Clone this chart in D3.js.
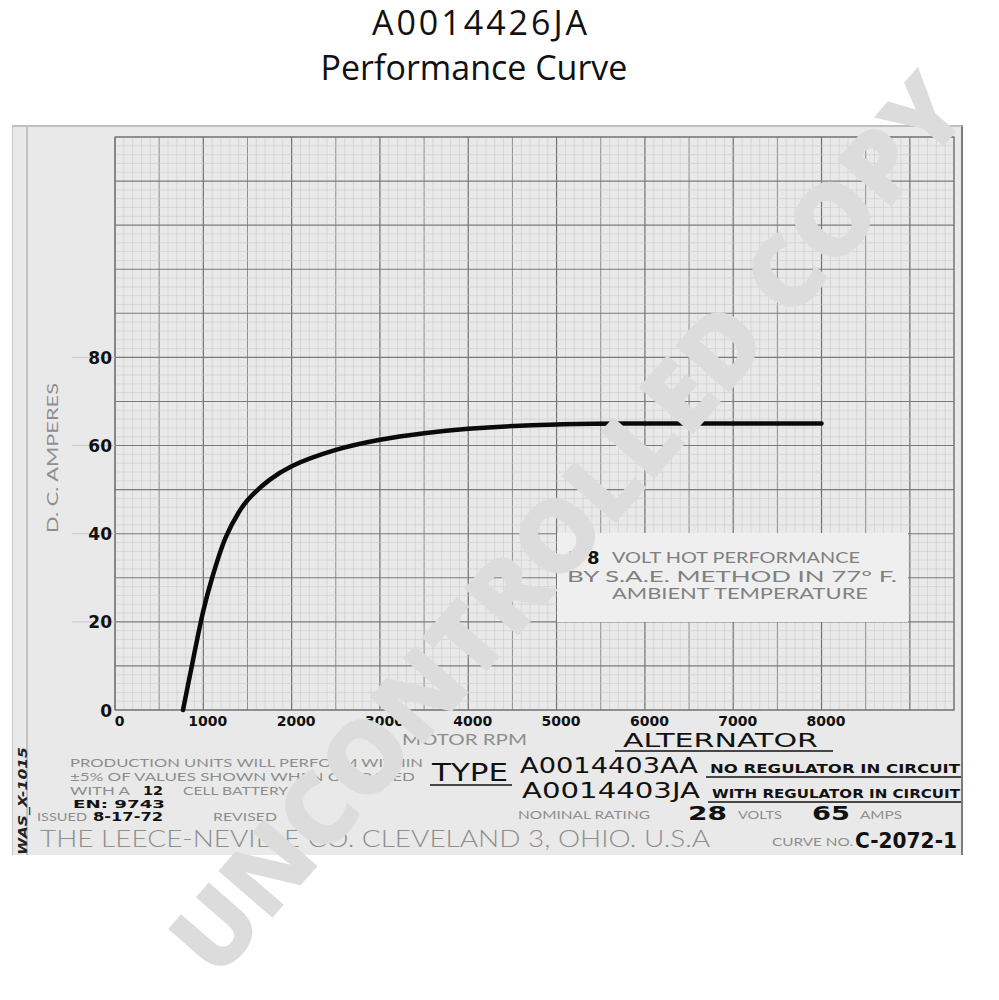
<!DOCTYPE html>
<html><head><meta charset="utf-8">
<script src="https://cdn.jsdelivr.net/npm/d3@7"></script>
<style>
html,body{margin:0;padding:0;background:#fff;}
svg{display:block;}
</style></head>
<body>
<script>
// ---- data ----
const rpm  = [770, 850, 1000, 1100, 1250, 1400, 1500, 1750, 2000, 2500, 3000, 3500, 4000, 5000, 6000, 7000, 8000];
const amps = [0, 8, 22.5, 30, 39, 44.8, 47.6, 52.2, 55.3, 59, 61.3, 62.8, 63.8, 64.8, 65, 65, 65];
const xTicks = [0, 1000, 2000, 3000, 4000, 5000, 6000, 7000, 8000];
const yTicks = [0, 20, 40, 60, 80];
const titleLines = ["A0014426JA", "Performance Curve"];

const W = 999, H = 1000;
const svg = d3.select("body").append("svg").attr("width", W).attr("height", H);

const x = d3.scaleLinear().domain([0, 9500]).range([115, 954]);
const y = d3.scaleLinear().domain([0, 130]).range([710, 137]);

// title
svg.selectAll("text.title").data(titleLines).enter().append("text")
  .attr("x", (d, i) => i === 0 ? 481 : 474).attr("y", (d, i) => 35 + i * 45)
  .attr("text-anchor", "middle")
  .style("font-family", "'Open Sans', sans-serif").style("font-size", "34px").style("fill", "#111")
  .style("letter-spacing", (d, i) => i === 0 ? "3px" : "0px")
  .text(d => d);

// paper
svg.append("rect").attr("x", 12).attr("y", 125).attr("width", 951).attr("height", 730).attr("fill", "#e9e9e9");
svg.append("line").attr("x1", 962).attr("x2", 962).attr("y1", 125).attr("y2", 855).attr("stroke", "#7a7a7a").attr("stroke-width", 2);
svg.append("line").attr("x1", 12).attr("x2", 963).attr("y1", 126).attr("y2", 126).attr("stroke", "#b0b0b0").attr("stroke-width", 1.5);
svg.append("line").attr("x1", 27).attr("x2", 27).attr("y1", 127).attr("y2", 855).attr("stroke", "#9a9a9a").attr("stroke-width", 1);
svg.append("line").attr("x1", 12.5).attr("x2", 12.5).attr("y1", 125).attr("y2", 855).attr("stroke", "#c8c8c8").attr("stroke-width", 1);

// grid
const g = svg.append("g");
const xMinor = d3.range(0, 9501, 100), yMinor = d3.range(0, 131, 2);
g.selectAll("line.vx").data(xMinor).enter().append("line")
  .attr("x1", d => x(d)).attr("x2", d => x(d)).attr("y1", y(130)).attr("y2", y(0))
  .attr("stroke", d => d % 1000 === 0 ? "#707070" : d % 500 === 0 ? "#8e8e8e" : "#cbcbcb")
  .attr("stroke-width", d => d % 1000 === 0 ? 1.2 : d % 500 === 0 ? 1 : 0.6);
g.selectAll("line.hy").data(yMinor).enter().append("line")
  .attr("y1", d => y(d)).attr("y2", d => y(d)).attr("x1", x(0)).attr("x2", x(9500))
  .attr("stroke", d => d % 10 === 0 ? "#7a7a7a" : "#cbcbcb")
  .attr("stroke-width", d => d % 10 === 0 ? 1.1 : 0.6);
g.append("rect").attr("x", x(0)).attr("y", y(130)).attr("width", x(9500) - x(0)).attr("height", y(0) - y(130))
  .attr("fill", "none").attr("stroke", "#777").attr("stroke-width", 1.2);
// faint left ticks
g.selectAll("line.lt").data(yTicks.slice(1)).enter().append("line")
  .attr("x1", 72).attr("x2", x(0)).attr("y1", d => y(d)).attr("y2", d => y(d))
  .attr("stroke", "#c8c8c8").attr("stroke-width", 1);

// annotation box
svg.append("rect").attr("x", 557).attr("y", 533).attr("width", 351).attr("height", 89).attr("fill", "#efefef");

// curve
const pts = rpm.map((r, i) => [r, amps[i]]);
svg.append("path").datum(pts)
  .attr("d", d3.line().x(d => x(d[0])).y(d => y(d[1])).curve(d3.curveCatmullRom.alpha(0.5)))
  .attr("fill", "none").attr("stroke", "#0a0a0a").attr("stroke-width", 4.5).attr("stroke-linecap", "round");

// axes labels
const inkFont = "'DejaVu Sans', sans-serif";
const xAxis = svg.append("g").call(d3.axisBottom(x).tickValues(xTicks).tickSize(0).tickPadding(0).tickFormat(d3.format("d")));
xAxis.attr("transform", `translate(4,${y(0)})`);
xAxis.select(".domain").remove();
xAxis.selectAll("text").attr("dy", "0.71em").attr("y", 6)
  .style("font-family", inkFont).style("font-weight", "bold").style("font-size", "14px").style("fill", "#111");

const yAxis = svg.append("g").attr("transform", "translate(112,0)").call(d3.axisLeft(y).tickValues(yTicks).tickSize(0).tickPadding(0));
yAxis.select(".domain").remove();
yAxis.selectAll("text").attr("dy", "0.36em")
  .style("font-family", inkFont).style("font-weight", "bold").style("font-size", "17px").style("fill", "#111");

const grayFont = "Lato, 'DejaVu Sans', sans-serif";
function T(txt, x0, yb, o) {
  o = o || {};
  const t = svg.append("text").attr("x", x0).attr("y", yb).text(txt)
    .style("font-family", o.font || grayFont)
    .style("font-size", (o.size || 12) + "px")
    .style("font-weight", o.weight || "normal")
    .style("fill", o.fill || "#8e8e8e");
  if (o.len) t.attr("textLength", o.len).attr("lengthAdjust", "spacingAndGlyphs");
  if (o.anchor) t.attr("text-anchor", o.anchor);
  if (o.style) t.style("font-style", o.style);
  if (o.transform) t.attr("transform", o.transform);
  return t;
}
const ink = "#111";

// axis titles
T("D. C.  AMPERES", 0, 0, {size: 16, len: 150, anchor: "middle", transform: "translate(58,458) rotate(-90)"});
T("MOTOR  RPM", 402, 745, {size: 16, len: 125});

// box text
T("2", 568, 564, {font: inkFont, weight: "bold", size: 18, fill: ink});
T("8", 587, 564, {font: inkFont, weight: "bold", size: 18, fill: ink});
T("VOLT  HOT  PERFORMANCE", 612, 563, {size: 16, len: 248, fill: "#808080"});
T("BY  S.A.E.   METHOD   IN   77° F.", 567, 582, {size: 16, len: 330, fill: "#808080"});
T("AMBIENT   TEMPERATURE", 612, 599, {size: 16, len: 256, fill: "#808080"});

// bottom-left block
T("PRODUCTION  UNITS  WILL  PERFORM  WITHIN", 70, 767, {size: 12, len: 353});
T("±5% OF VALUES  SHOWN  WHEN  OPERATED", 70, 781, {size: 12, len: 345});
T("WITH  A", 70, 794.5, {size: 11, len: 60});
T("12", 143, 795, {font: inkFont, weight: "bold", size: 12, len: 20, fill: ink});
T("CELL BATTERY", 183, 794.5, {size: 11, len: 105});
T("EN: 9743", 73, 807.5, {font: inkFont, weight: "bold", size: 10, len: 92, fill: ink});
T("ISSUED", 37, 821, {size: 11, len: 50});
T("8-17-72", 93, 821, {font: inkFont, weight: "bold", size: 12, len: 70, fill: ink});
T("REVISED", 213, 821, {size: 11, len: 64});
T("THE LEECE-NEVILLE CO. CLEVELAND 3, OHIO. U.S.A", 40, 847, {size: 23, len: 670, weight: 300, fill: "#8e8e8e"});
T("WAS_X-1015", 0, 0, {font: inkFont, weight: "bold", style: "italic", size: 12, len: 108, anchor: "middle", fill: "#222", transform: "translate(27,801) rotate(-90)"});

// right block
T("ALTERNATOR", 623, 747, {font: inkFont, size: 20, len: 195, fill: ink});
T("TYPE", 432, 781, {font: inkFont, size: 24, len: 76, fill: ink});
T("A0014403AA", 520, 773, {font: inkFont, size: 21, len: 178, fill: ink});
T("A0014403JA", 522, 798, {font: inkFont, size: 21, len: 178, fill: ink});
T("NO REGULATOR IN CIRCUIT", 710, 773, {font: inkFont, weight: "bold", size: 12, len: 250, fill: ink});
T("WITH REGULATOR IN CIRCUIT", 712, 798, {font: inkFont, weight: "bold", size: 12, len: 248, fill: ink});
T("NOMINAL RATING", 518, 819, {size: 12, len: 132});
T("28", 688, 820, {font: inkFont, weight: "bold", size: 19, len: 39, fill: ink});
T("VOLTS", 738, 819, {size: 12, len: 44});
T("65", 812, 820, {font: inkFont, weight: "bold", size: 19, len: 38, fill: ink});
T("AMPS", 860, 819, {size: 12, len: 42});
T("CURVE NO.", 772, 846, {size: 11, len: 81});
T("C-2072-1", 855, 848, {font: inkFont, weight: "bold", size: 22, len: 102, fill: ink});

// underlines
const ul = [[615, 833, 751], [430, 512, 785], [706, 961, 777], [708, 961, 802]];
svg.selectAll("line.ul").data(ul).enter().append("line")
  .attr("x1", d => d[0]).attr("x2", d => d[1]).attr("y1", d => d[2]).attr("y2", d => d[2])
  .attr("stroke", ink).attr("stroke-width", 1.6);

// watermark
svg.append("text").attr("transform", "translate(565,522) rotate(-49)")
  .attr("text-anchor", "middle").attr("dominant-baseline", "central")
  .attr("textLength", 1150).attr("lengthAdjust", "spacingAndGlyphs")
  .style("font-family", "'Open Sans', sans-serif").style("font-weight", "800").style("font-size", "100px")
  .style("fill", "#dcdcdc")
  .text("UNCONTROLLED COPY");
</script>
</body></html>
